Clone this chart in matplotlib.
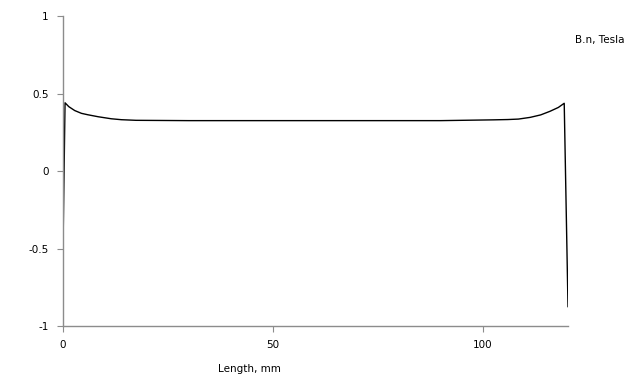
import numpy as np
import matplotlib.pyplot as plt

# B.n along the length
length_mm = [0.0, 0.6, 1.5, 2.9, 4.5, 6.0, 8.5, 11.6, 14.0, 17.5, 30.0, 60.0,
             90.0, 102.5, 106.0, 108.5, 111.3, 113.8, 116.0, 118.0, 119.4, 120.3]
bn_tesla = [-0.72, 0.44, 0.415, 0.39, 0.372, 0.363, 0.35, 0.337, 0.331, 0.327,
            0.325, 0.325, 0.325, 0.33, 0.332, 0.335, 0.346, 0.362, 0.385, 0.41,
            0.437, -0.875]

xticks = [0, 50, 100]
yticks = [-1, -0.5, 0, 0.5, 1]
ytick_labels = ["-1", "-0.5", "0", "0.5", "1"]

fig = plt.figure(figsize=(6.4, 3.82), dpi=100)
ax = fig.add_axes([0.0977, 0.1466, 0.7898, 0.8115])

ax.plot(length_mm, bn_tesla, color='black', linewidth=1.0)

ax.set_xlim(0, 120.3)
ax.set_ylim(-1, 1)
ax.set_xticks(xticks)
ax.set_yticks(yticks)
ax.set_yticklabels(ytick_labels)

for s in ['top', 'right']:
    ax.spines[s].set_visible(False)
for s in ['left', 'bottom']:
    ax.spines[s].set_color('#8c8c8c')
    ax.spines[s].set_linewidth(1.0)
ax.tick_params(colors='#8c8c8c', labelcolor='black', labelsize=7.5,
               length=4, width=0.8, pad=6)

fig.text(0.898, 0.895, "B.n, Tesla", fontsize=7.5, ha='left', va='center')
fig.text(0.39, 0.035, "Length, mm", fontsize=7.5, ha='center', va='center')

fig.savefig("out.png", dpi=100)
